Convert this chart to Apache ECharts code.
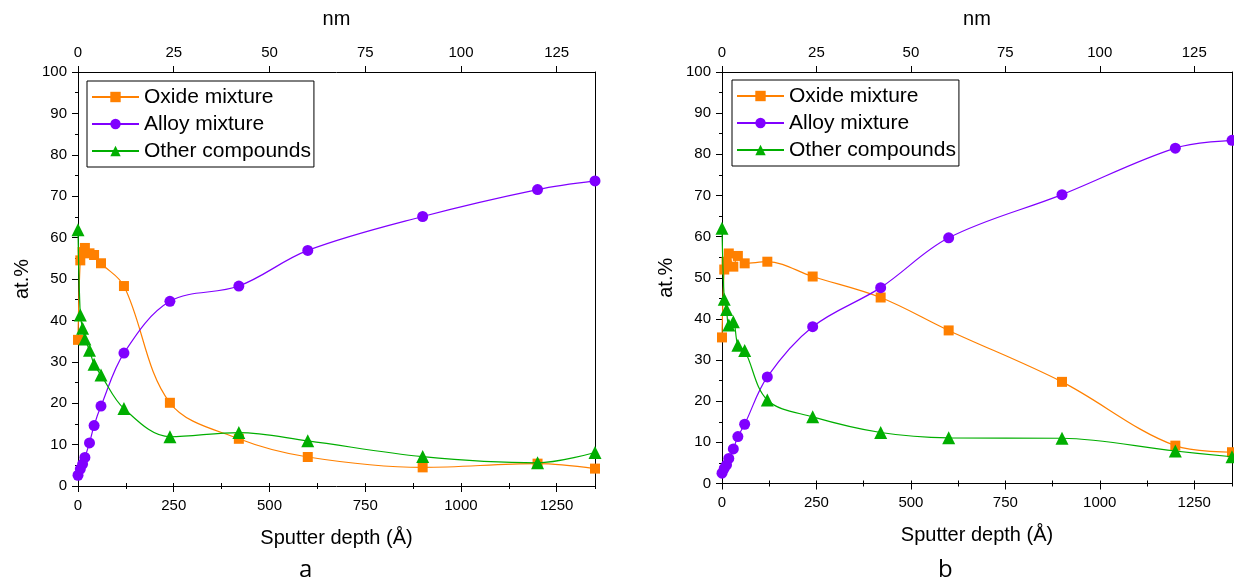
<!DOCTYPE html>
<html><head><meta charset="utf-8">
<script src="https://cdn.jsdelivr.net/npm/echarts@6/dist/echarts.min.js"></script>
<style>html,body{margin:0;padding:0;background:#fff}#c{width:1234px;height:582px}</style>
</head><body><div id="c"></div>
<script>
// Sputter depth (Å)
const depth = [0, 6, 12, 18, 30, 42, 60, 120, 240, 420, 600, 900, 1200, 1350];
// Panel a
const oxideA = [35.3, 54.5, 56.5, 57.5, 56.2, 55.8, 53.8, 48.3, 20.1, 11.4, 7.0, 4.5, 5.4, 4.2];
const alloyA = [2.6, 4.1, 5.3, 6.9, 10.4, 14.6, 19.3, 32.1, 44.6, 48.3, 56.9, 65.1, 71.6, 73.7];
const otherA = [61.9, 41.3, 38.1, 35.5, 32.8, 29.4, 26.8, 18.7, 11.9, 12.9, 10.9, 7.1, 5.6, 8.1];
// Panel b
const oxideB = [35.5, 52.0, 53.9, 55.9, 52.7, 55.3, 53.5, 53.9, 50.3, 45.2, 37.2, 24.7, 9.2, 7.6];
const alloyB = [2.5, 3.7, 4.5, 6.1, 8.4, 11.4, 14.4, 25.9, 38.1, 47.6, 59.7, 70.2, 81.5, 83.4];
const otherB = [62.0, 44.8, 42.3, 38.5, 39.3, 33.6, 32.3, 20.3, 16.2, 12.4, 11.1, 11.0, 7.9, 6.5];

const seriesNames = ['Oxide mixture', 'Alloy mixture', 'Other compounds'];
const panelLabels = ['a', 'b'];
const xName = 'Sputter depth (Å)';
const x2Name = 'nm';
const yName = 'at.%';

const colors = ['#FF8000', '#8000FF', '#00AE00'];
const symbols = ['rect', 'circle', 'triangle'];
const symSizes = [10, 11, 13];
const FONT = 'Arial';

const grids = [
  {left: 78, top: 72, width: 517, height: 414},
  {left: 722, top: 72, width: 510, height: 411.5}
];

const xAxes = [], yAxes = [], series = [], legends = [];
const data = [[oxideA, alloyA, otherA], [oxideB, alloyB, otherB]];
const black = {color: '#000', width: 1};
const plain = v => String(v);

grids.forEach((g, gi) => {
  const base = xAxes.length;
  xAxes.push({
    gridIndex: gi, type: 'value', position: 'bottom', min: 0, max: 1350, interval: 250,
    axisLine: {onZero: false, lineStyle: black},
    axisTick: {length: 6, lineStyle: black},
    axisLabel: {showMaxLabel: false, fontSize: 15, color: '#000', margin: 12, fontFamily: FONT, formatter: plain},
    splitLine: {show: false},
    name: xName, nameLocation: 'middle', nameGap: 42,
    nameTextStyle: {fontSize: 20, color: '#000', fontFamily: FONT}
  });
  xAxes.push({
    gridIndex: gi, type: 'value', position: 'bottom', min: 0, max: 1350, interval: 125,
    axisLine: {show: false}, axisTick: {length: 3, lineStyle: black},
    axisLabel: {show: false}, splitLine: {show: false}
  });
  xAxes.push({
    gridIndex: gi, type: 'value', position: 'top', min: 0, max: 135, interval: 25,
    axisLine: {onZero: false, lineStyle: black},
    axisTick: {length: 6, lineStyle: black},
    axisLabel: {showMaxLabel: false, fontSize: 15, color: '#000', margin: 12, fontFamily: FONT, formatter: plain},
    splitLine: {show: false},
    name: x2Name, nameLocation: 'middle', nameGap: 43,
    nameTextStyle: {fontSize: 20, color: '#000', fontFamily: FONT}
  });
  xAxes.push({
    gridIndex: gi, type: 'value', position: 'top', min: 0, max: 135, interval: 12.5,
    axisLine: {show: false}, axisTick: {length: 3, lineStyle: black},
    axisLabel: {show: false}, splitLine: {show: false}
  });
  const ybase = yAxes.length;
  yAxes.push({
    gridIndex: gi, type: 'value', position: 'left', min: 0, max: 100, interval: 10,
    axisLine: {show: true, onZero: false, lineStyle: black},
    axisTick: {show: true, length: 6, lineStyle: black},
    minorTick: {show: true, splitNumber: 2, length: 3, lineStyle: black},
    axisLabel: {fontSize: 15, color: '#000', margin: 11, fontFamily: FONT, formatter: plain},
    splitLine: {show: false},
    name: yName, nameLocation: 'middle', nameGap: 46,
    nameTextStyle: {fontSize: 20, color: '#000', fontFamily: FONT}
  });
  yAxes.push({
    gridIndex: gi, type: 'value', position: 'right', min: 0, max: 100,
    axisLine: {show: true, onZero: false, lineStyle: black},
    axisTick: {show: false}, axisLabel: {show: false}, splitLine: {show: false}
  });
  data[gi].forEach((arr, si) => {
    series.push({
      type: 'line', name: seriesNames[si], xAxisIndex: base, yAxisIndex: ybase,
      data: depth.map((d, i) => [d, arr[i]]),
      smooth: 0.35, symbol: symbols[si], symbolSize: symSizes[si],
      itemStyle: {color: colors[si]}, lineStyle: {color: colors[si], width: 1.2},
      z: 2 + si
    });
  });
  legends.push({
    data: seriesNames, orient: 'vertical', left: g.left + (gi ? 10 : 9), top: gi ? 80 : 81,
    padding: [5, 3, 5, 4], itemGap: 5, itemWidth: 47, itemHeight: 13,
    borderColor: '#000', borderWidth: 1, borderRadius: 0, backgroundColor: '#fff',
    textStyle: {fontSize: 21, color: '#000', fontFamily: FONT, lineHeight: 22},
    selectedMode: false
  });
});

const chart = echarts.init(document.getElementById('c'), null, {renderer: 'canvas'});
chart.setOption({
  animation: false,
  backgroundColor: '#fff',
  grid: grids,
  xAxis: xAxes,
  yAxis: yAxes,
  legend: legends,
  series: series,
  graphic: panelLabels.map((t, i) => ({
    type: 'text', left: i ? 938 : 299, top: 558, z: 100,
    style: {text: t, fontSize: 24, fill: '#000', fontFamily: '"Open Sans", "Noto Sans", sans-serif'}
  }))
});
</script>
</body></html>
